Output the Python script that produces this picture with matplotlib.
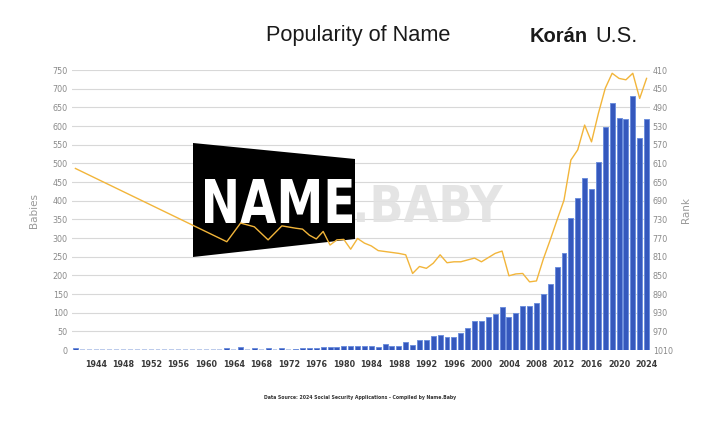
import numpy as np
import matplotlib.pyplot as plt
from matplotlib.patches import Polygon, PathPatch
from matplotlib.textpath import TextPath
from matplotlib.font_manager import FontProperties
from matplotlib.transforms import Affine2D

# babies per year (years not listed are 0)
bar_years = [1941, 1963, 1965, 1967, 1969, 1971,
             1973, 1974, 1975, 1976, 1977, 1978, 1979, 1980, 1981, 1982,
             1983, 1984, 1985, 1986, 1987, 1988, 1989, 1990, 1991, 1992,
             1993, 1994, 1995, 1996, 1997, 1998, 1999, 2000, 2001, 2002,
             2003, 2004, 2005, 2006, 2007, 2008, 2009, 2010, 2011, 2012,
             2013, 2014, 2015, 2016, 2017, 2018, 2019, 2020, 2021, 2022,
             2023, 2024]
bar_counts = [5, 6, 7, 5, 5, 5,
              4, 5, 5, 6, 7, 8, 9, 11, 11, 12,
              12, 10, 8, 15, 12, 12, 22, 13, 28, 27,
              37, 40, 34, 34, 45, 60, 79, 79, 89, 96,
              116, 89, 98, 119, 119, 125, 149, 176, 223, 259,
              354, 408, 460, 431, 504, 598, 661, 622, 618, 681,
              569, 620]

# rank per year
rank_years = bar_years
ranks = [621, 778, 738, 746, 774, 744,
         749, 751, 764, 772, 756, 785, 774, 773, 794, 771,
         781, 787, 797, 799, 801, 803, 806, 846, 831, 835,
         824, 806, 823, 821, 821, 817, 813, 821, 812, 803,
         798, 851, 847, 846, 864, 862, 815, 774, 731, 689,
         603, 581, 528, 564, 503, 449, 417, 428, 431, 417,
         471, 428]

first_year, last_year = 1941, 2024
tick_years = list(range(1944, 2025, 4))

years = np.arange(first_year, last_year + 1)
lookup = dict(zip(bar_years, bar_counts))
counts = np.array([lookup.get(y, 0) for y in years])

W, H = 720, 421
fig = plt.figure(figsize=(W / 100, H / 100), dpi=100)
fig.patch.set_facecolor('white')


def fx(x):
    return x / W


def fy(y):
    return 1 - y / H


def fit_text(s, x0, x1, ytop, ybot, color, z, alpha=1.0):
    # text drawn as a path squeezed into a pixel box
    tp = TextPath((0, 0), s, size=10,
                  prop=FontProperties(family='DejaVu Sans', weight='bold'))
    ext = tp.get_extents()
    tr = (Affine2D().translate(-ext.x0, -ext.y0)
          .scale((x1 - x0) / ext.width, (ybot - ytop) / ext.height)
          .translate(x0, H - ybot))
    fig.add_artist(PathPatch(tp, transform=tr, facecolor=color,
                             edgecolor='none', zorder=z, alpha=alpha))


ax = fig.add_axes([fx(72), fy(350), fx(650) - fx(72), fy(70) - fy(350)])
ax.set_zorder(0)

edge = ['#6d8fdc' if c > 0 else '#a9bde6' for c in counts]
lw = [0.7 if c > 0 else 1.1 for c in counts]
ax.bar(years, counts, width=0.72, color='#3558bd', edgecolor=edge,
       linewidth=lw, zorder=2)

ax.set_xlim(first_year - 0.5, last_year + 0.5)
ax.set_ylim(0, 750)
ax.set_yticks(range(0, 751, 50))
ax.set_xticks(tick_years)
ax.set_xticklabels([str(y) for y in tick_years])
ax.grid(axis='y', color='#d8d8d8', linewidth=0.8, zorder=0)
ax.set_axisbelow(True)
for s in ax.spines.values():
    s.set_visible(False)
ax.tick_params(axis='y', length=0, pad=3, labelsize=5.8, labelcolor='#8a8a8a')
ax.tick_params(axis='x', length=0, pad=7, labelsize=5.8, labelcolor='#3a3a3a')
for lb in ax.get_xticklabels():
    lb.set_fontweight('bold')
ax.set_ylabel('Babies', color='#9a9a9a', fontsize=7.5, labelpad=10)

ax2 = ax.twinx()
ax2.set_zorder(2)
ax2.plot(rank_years, ranks, color='#f2b53a', linewidth=1.0)
ax2.set_ylim(1010, 410)
ax2.set_yticks(range(410, 1011, 40))
for s in ax2.spines.values():
    s.set_visible(False)
ax2.tick_params(axis='y', length=0, pad=2, labelsize=5.8, labelcolor='#8a8a8a')
ax2.set_ylabel('Rank', color='#9a9a9a', fontsize=7.5, labelpad=6)

# watermark
pts = [(193, 143), (355, 159), (355, 239), (193, 257)]
wm = Polygon([(fx(x), fy(y)) for x, y in pts], closed=True,
             transform=fig.transFigure, facecolor='black', edgecolor='none',
             zorder=1)
fig.add_artist(wm)
fit_text('NAME', 205, 352, 179, 223, 'white', 1.5)
fit_text('.BABY', 357, 503, 185, 222, '#e2e2e2', 1.5, alpha=0.9)

# title
fig.text(fx(266), fy(36), 'Popularity of Name', fontsize=15.7,
         family='Liberation Sans', color='#1a1a1a', ha='left', va='center')
fig.text(fx(530), fy(36), 'Korán', fontsize=14.5, fontweight='bold',
         family='Liberation Sans', color='#1a1a1a', ha='left', va='center')
fig.text(fx(595), fy(36), 'U.S.', fontsize=15.7,
         family='Liberation Sans', color='#1a1a1a', ha='left', va='center')

fig.text(fx(360), fy(397),
         'Data Source: 2024 Social Security Applications - Compiled by Name.Baby',
         fontsize=3.3, fontweight='bold', color='#333333', ha='center',
         va='center')

fig.savefig('out.png', dpi=100)
